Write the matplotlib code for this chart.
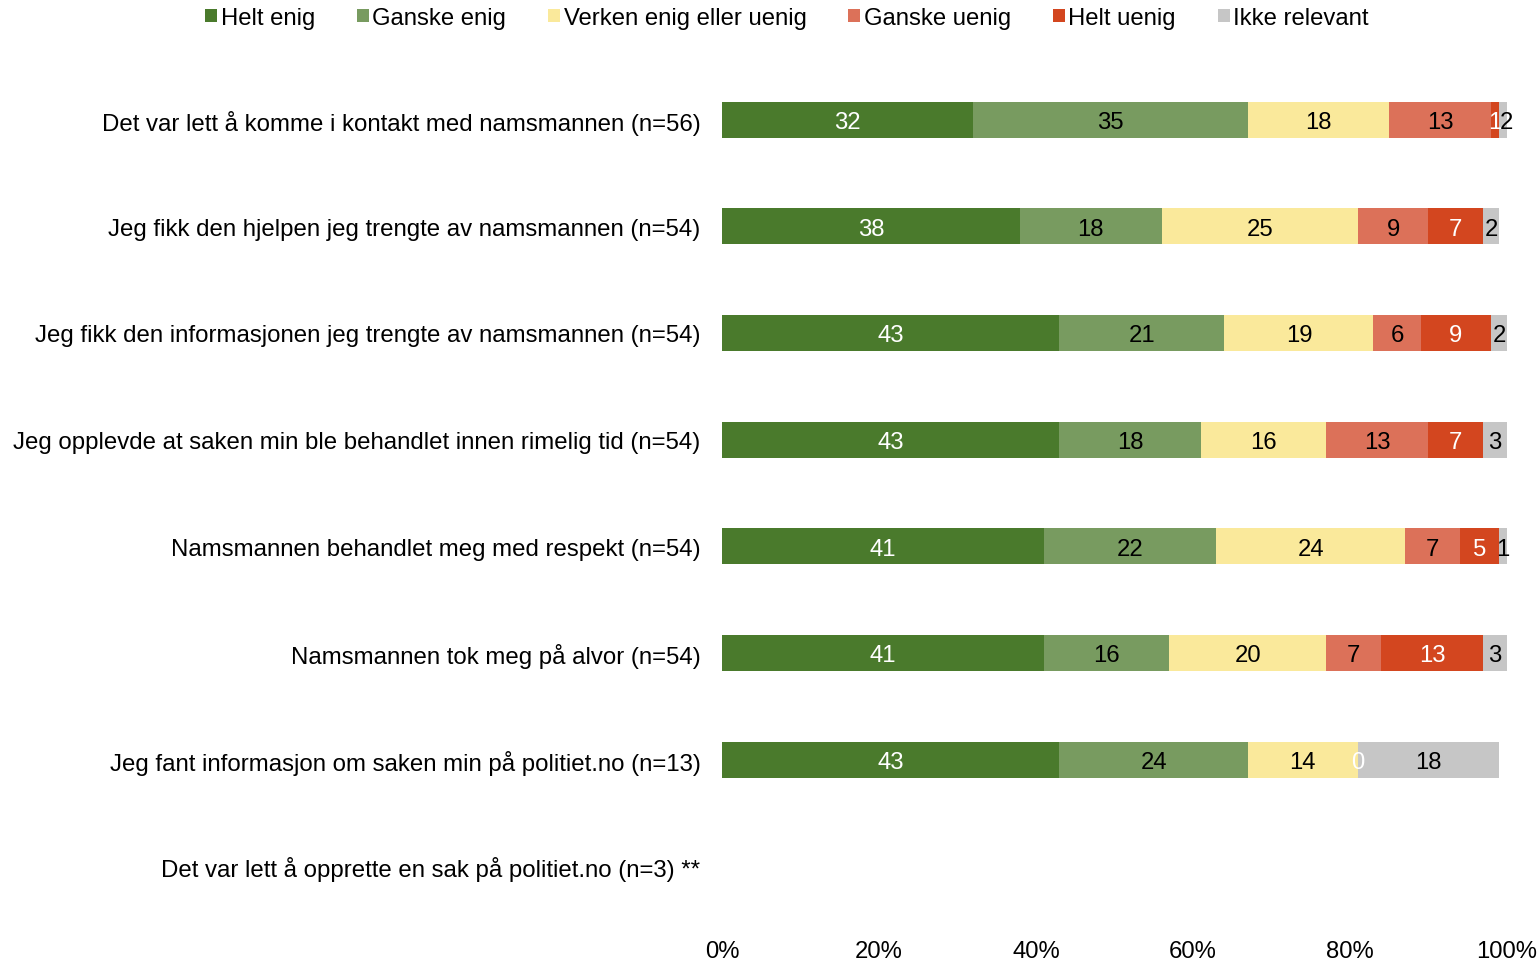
import numpy as np
import matplotlib
matplotlib.use("Agg")
import matplotlib.pyplot as plt

plt.rcParams['font.family'] = ['Liberation Sans', 'DejaVu Sans']

questions = [
    "Det var lett å komme i kontakt med namsmannen (n=56)",
    "Jeg fikk den hjelpen jeg trengte av namsmannen (n=54)",
    "Jeg fikk den informasjonen jeg trengte av namsmannen (n=54)",
    "Jeg opplevde at saken min ble behandlet innen rimelig tid (n=54)",
    "Namsmannen behandlet meg med respekt (n=54)",
    "Namsmannen tok meg på alvor (n=54)",
    "Jeg fant informasjon om saken min på politiet.no (n=13)",
    "Det var lett å opprette en sak på politiet.no (n=3) **",
]
series = ["Helt enig", "Ganske enig", "Verken enig eller uenig",
          "Ganske uenig", "Helt uenig", "Ikke relevant"]

nan = np.nan
helt_enig     = [32, 38, 43, 43, 41, 41, 43, nan]
ganske_enig   = [35, 18, 21, 18, 22, 16, 24, nan]
verken        = [18, 25, 19, 16, 24, 20, 14, nan]
ganske_uenig  = [13,  9,  6, 13,  7,  7, nan, nan]
helt_uenig    = [ 1,  7,  9,  7,  5, 13,  0, nan]
ikke_relevant = [ 2,  2,  2,  3,  1,  3, 18, nan]

values = [helt_enig, ganske_enig, verken, ganske_uenig, helt_uenig, ikke_relevant]
colors = ["#4a7a2c", "#789b60", "#fae99b", "#dc7159", "#d3461f", "#c6c6c6"]
text_colors = ["white", "black", "black", "black", "white", "black"]

fig = plt.figure(figsize=(15.4, 9.62), dpi=100)
ax = fig.add_axes([0.4688, 0.043, 0.5097, 0.887])

y = np.arange(len(questions))
left = np.zeros(len(questions))
for vals, name, c, tc in zip(values, series, colors, text_colors):
    v = np.array(vals, dtype=float)
    w = np.nan_to_num(v)
    ax.barh(y, w, left=left, height=0.34, color=c, label=name)
    for i, val in enumerate(v):
        if np.isnan(val):
            continue
        ax.text(left[i] + w[i] / 2, y[i], "%d" % val, ha='center',
                va='center_baseline', color=tc, fontsize=17.2)
    left = left + w

ax.set_ylim(len(questions) - 0.5, -0.5)
ax.set_xlim(0, 100)
ax.set_yticks(y)
ax.set_yticklabels(questions, fontsize=17.25)
ax.set_xticks(np.arange(0, 101, 20))
ax.set_xticklabels(["%d%%" % t for t in range(0, 101, 20)], fontsize=17.2)
ax.tick_params(axis='both', length=0)
ax.tick_params(axis='y', pad=15.5)
ax.tick_params(axis='x', pad=14.5)
for s in ax.spines.values():
    s.set_visible(False)

fig.legend(loc='upper center', bbox_to_anchor=(0.511, 1.014), ncol=6, frameon=False,
           fontsize=17.2, handlelength=0.5, handleheight=0.5, handletextpad=0.15,
           columnspacing=1.75)

fig.savefig("out.png", dpi=100)
